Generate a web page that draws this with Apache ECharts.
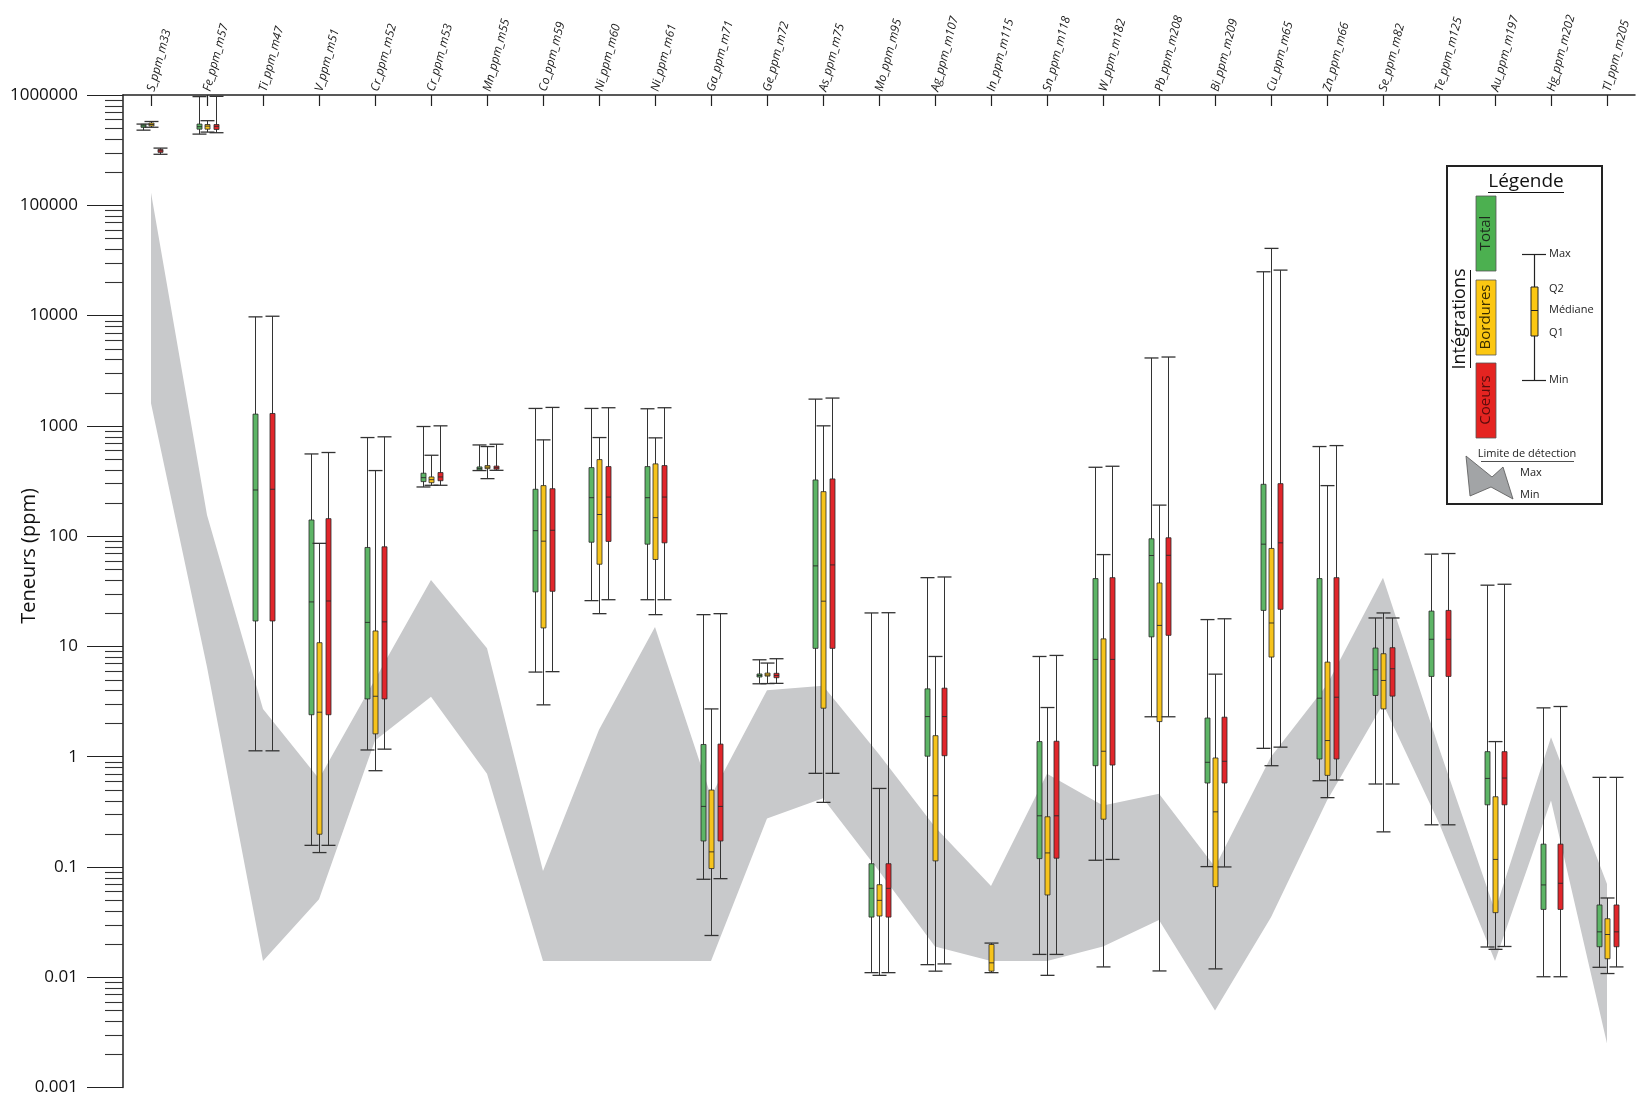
<!DOCTYPE html>
<html><head><meta charset="utf-8">
<script src="https://cdn.jsdelivr.net/npm/echarts/dist/echarts.min.js"></script>
<style>html,body{margin:0;padding:0;background:#fff}#c{width:1642px;height:1098px}</style>
</head><body><div id="c"></div>
<script>
// ---------- DATA ----------
const categories = ['S_ppm_m33','Fe_ppm_m57','Ti_ppm_m47','V_ppm_m51','Cr_ppm_m52','Cr_ppm_m53','Mn_ppm_m55','Co_ppm_m59','Ni_ppm_m60','Ni_ppm_m61','Ga_ppm_m71','Ge_ppm_m72','As_ppm_m75','Mo_ppm_m95','Ag_ppm_m107','In_ppm_m115','Sn_ppm_m118','W_ppm_m182','Pb_ppm_m208','Bi_ppm_m209','Cu_ppm_m65','Zn_ppm_m66','Se_ppm_m82','Te_ppm_m125','Au_ppm_m197','Hg_ppm_m202','Tl_ppm_m205'];

// [min, Q1, median, Q2(upper quartile), max]
const total = [
  [480000,515000,525000,535000,545000],
  [442000,490000,516000,545000,967000],
  [1.13,17,262,1277,9730],
  [0.157,2.4,25.3,140,556],
  [1.15,3.34,16.5,78.9,783],
  [279,312,339,372,986],
  [393,404,411,418,671],
  [5.85,31.2,112,266,1438],
  [26,88,223,418,1438],
  [26.5,84.5,223,427,1428],
  [0.0773,0.172,0.354,1.29,19.4],
  [4.58,5.3,5.45,5.6,7.56],
  [0.706,9.6,53.7,323,1747],
  [0.011,0.0351,0.064,0.107,20.1],
  [0.013,1.01,2.31,4.12,42],
  null,
  [0.0161,0.119,0.291,1.37,8.1],
  [0.115,0.828,7.62,41.2,421],
  [2.3,12.2,66.7,94.6,4125],
  [0.1007,0.577,0.889,2.24,17.5],
  [1.19,21.2,84.5,295,24950],
  [0.605,0.953,3.39,41.2,649],
  [0.565,3.59,6.14,9.66,18.1],
  [0.241,5.34,11.6,20.9,68.6],
  [0.0188,0.366,0.635,1.11,35.9],
  [0.0101,0.0412,0.0687,0.161,2.77],
  [0.0123,0.0189,0.0258,0.0452,0.649]
];
const bordures = [
  [510000,530000,540000,550000,575000],
  [461000,490000,522000,540000,585000],
  null,
  [0.135,0.198,2.53,10.8,86],
  [0.746,1.61,3.53,13.8,393],
  [289,305,325,344,541],
  [332,409,422,436,649],
  [2.95,14.7,90,287,746],
  [19.8,55.6,157,494,783],
  [19.4,61.4,147,452,778],
  [0.0239,0.0967,0.137,0.498,2.71],
  [4.6,5.4,5.5,5.7,7.06],
  [0.385,2.75,25.7,253,1000],
  [0.0104,0.0359,0.0498,0.069,0.515],
  [0.01135,0.1135,0.442,1.55,8.1],
  [0.011,0.01135,0.0135,0.0198,0.0204],
  [0.0104,0.0557,0.134,0.285,2.79],
  [0.0124,0.271,1.12,11.7,68],
  [0.0114,2.08,15.5,37.6,191],
  [0.0119,0.0663,0.316,0.973,5.6],
  [0.828,8.0,16.3,77.3,40650],
  [0.425,0.677,1.40,7.2,287],
  [0.208,2.71,4.91,8.58,20.1],
  null,
  [0.0179,0.0385,0.117,0.433,1.37],
  null,
  [0.0108,0.0147,0.0244,0.0339,0.0523]
];
const coeurs = [
  [290000,305000,312000,318000,330000],
  [455000,487000,520000,540000,972000],
  [1.13,17,266,1294,9860],
  [0.157,2.4,25.8,144,573],
  [1.17,3.34,16.7,80,795],
  [289,318,344,377,1000],
  [395,409,417,427,681],
  [5.9,31.6,113,269,1469],
  [26.5,89.5,226,427,1459],
  [26.5,86.9,226,436,1459],
  [0.0783,0.172,0.354,1.30,19.8],
  [4.62,5.2,5.45,5.7,7.73],
  [0.706,9.6,54.8,330,1786],
  [0.011,0.0351,0.064,0.107,20.2],
  [0.0132,1.02,2.31,4.18,42.6],
  null,
  [0.0161,0.12,0.291,1.38,8.28],
  [0.117,0.84,7.62,42,430],
  [2.3,12.6,67,96.6,4207],
  [0.1,0.577,0.908,2.28,17.8],
  [1.22,21.7,86.9,299,25830],
  [0.614,0.953,3.46,42,662],
  [0.565,3.54,6.27,9.73,18.1],
  [0.241,5.34,11.6,21.2,69.5],
  [0.019,0.366,0.64,1.11,36.6],
  [0.0101,0.0412,0.0711,0.161,2.85],
  [0.0124,0.0189,0.0258,0.0452,0.649]
];
// detection limit band (max / min)
const detMax = [130000,155,2.7,0.63,5,40,9.6,0.092,1.75,15,0.44,4.0,4.4,1.05,0.23,0.067,0.7,0.36,0.46,0.1,1.0,4.5,42,1.2,0.04,1.5,0.07];
const detMin = [1600,6.5,0.014,0.051,1.4,3.5,0.7,0.014,0.014,0.014,0.014,0.275,0.42,0.092,0.019,0.014,0.014,0.019,0.033,0.005,0.035,0.4,3.0,0.25,0.014,0.4,0.0025];

// ---------- STYLE ----------
const FONT = 'Open Sans';
const COL_G = '#5db566', COL_Y = '#f6c31c', COL_R = '#e1262b';
const LEG_G = '#4cb050', LEG_Y = '#fcc712', LEG_R = '#e52421';

function toData(arr){
  const out = [];
  arr.forEach((s,i)=>{ if(s) out.push([i, s[0], s[1], s[2], s[3], s[4]]); });
  return out;
}

function boxRender(offset, color){
  return function(params, api){
    const i = api.value(0);
    const pMin = api.coord([i, api.value(1)]);
    const pQ1 = api.coord([i, api.value(2)]);
    const pMed = api.coord([i, api.value(3)]);
    const pQ3 = api.coord([i, api.value(4)]);
    const pMax = api.coord([i, api.value(5)]);
    const x = Math.round(pMin[0] + offset) + 0.5;
    const capW = 14, bw = 5;
    let top = pQ3[1], bot = pQ1[1];
    if (bot - top < 3) { const m = (top+bot)/2; top = m-1.5; bot = m+1.5; }
    const ln = {stroke:'#333', lineWidth:1};
    return {type:'group', children:[
      {type:'line', shape:{x1:x,y1:pMax[1],x2:x,y2:pMin[1]}, style:ln},
      {type:'line', shape:{x1:x-capW/2,y1:pMax[1],x2:x+capW/2,y2:pMax[1]}, style:{stroke:'#333',lineWidth:1.3}},
      {type:'line', shape:{x1:x-capW/2,y1:pMin[1],x2:x+capW/2,y2:pMin[1]}, style:{stroke:'#333',lineWidth:1.3}},
      {type:'rect', shape:{x:x-bw/2,y:top,width:bw,height:bot-top}, style:{fill:color, stroke:'#2a2a2a', lineWidth:0.8}},
      {type:'line', shape:{x1:x-bw/2,y1:pMed[1],x2:x+bw/2,y2:pMed[1]}, style:{stroke:'#2a2a2a',lineWidth:0.9}}
    ]};
  };
}

// minor ticks of the log axis (2..9 x 10^k)
const minorVals = [];
for (let k=-3;k<=5;k++) for (let m=2;m<=9;m++) minorVals.push([0, m*Math.pow(10,k)]);

const chart = echarts.init(document.getElementById('c'), null, {renderer:'canvas'});

const legX = 1447, legY = 166;
const graphic = [
  {type:'text', x:29, y:556, rotation:Math.PI/2, style:{text:'Teneurs (ppm)', font:'20px "'+FONT+'"', fill:'#111', align:'center', verticalAlign:'middle'}},
  {type:'rect', x:legX, y:legY, shape:{width:155, height:338}, style:{fill:'#fff', stroke:'#222', lineWidth:2}, z:100},
  {type:'text', x:1526, y:182, style:{text:'Légende', font:'19px "'+FONT+'"', fill:'#111', align:'center', verticalAlign:'middle'}, z:101},
  {type:'line', shape:{x1:1488,y1:192.5,x2:1564,y2:192.5}, style:{stroke:'#111', lineWidth:1}, z:101},
  {type:'text', x:1460, y:319, rotation:Math.PI/2, style:{text:'Intégrations', font:'18px "'+FONT+'"', fill:'#111', align:'center', verticalAlign:'middle'}, z:101},
  {type:'line', shape:{x1:1470.5,y1:270,x2:1470.5,y2:368}, style:{stroke:'#111', lineWidth:1}, z:101},
  {type:'rect', x:1476, y:196, shape:{width:20,height:75}, style:{fill:LEG_G, stroke:'#555', lineWidth:0.8}, z:101},
  {type:'rect', x:1476, y:280, shape:{width:20,height:75}, style:{fill:LEG_Y, stroke:'#555', lineWidth:0.8}, z:101},
  {type:'rect', x:1476, y:363, shape:{width:20,height:75}, style:{fill:LEG_R, stroke:'#555', lineWidth:0.8}, z:101},
  {type:'text', x:1486, y:233, rotation:Math.PI/2, style:{text:'Total', font:'15px "'+FONT+'"', fill:'#1d2a1d', align:'center', verticalAlign:'middle'}, z:102},
  {type:'text', x:1486, y:317, rotation:Math.PI/2, style:{text:'Bordures', font:'15px "'+FONT+'"', fill:'#3a2e00', align:'center', verticalAlign:'middle'}, z:102},
  {type:'text', x:1486, y:400, rotation:Math.PI/2, style:{text:'Coeurs', font:'15px "'+FONT+'"', fill:'#5a0c0c', align:'center', verticalAlign:'middle'}, z:102},
  // sample boxplot
  {type:'line', shape:{x1:1534.5,y1:254,x2:1534.5,y2:380}, style:{stroke:'#222', lineWidth:1.2}, z:101},
  {type:'line', shape:{x1:1522,y1:254.5,x2:1546,y2:254.5}, style:{stroke:'#222', lineWidth:1.2}, z:101},
  {type:'line', shape:{x1:1522,y1:380.5,x2:1546,y2:380.5}, style:{stroke:'#222', lineWidth:1.2}, z:101},
  {type:'rect', x:1531, y:287, shape:{width:7,height:49}, style:{fill:LEG_Y, stroke:'#222', lineWidth:1}, z:102},
  {type:'line', shape:{x1:1531,y1:310.5,x2:1538,y2:310.5}, style:{stroke:'#222', lineWidth:1}, z:103},
  {type:'text', x:1549, y:254, style:{text:'Max', font:'11px "'+FONT+'"', fill:'#222', verticalAlign:'middle'}, z:101},
  {type:'text', x:1549, y:289, style:{text:'Q2', font:'11px "'+FONT+'"', fill:'#222', verticalAlign:'middle'}, z:101},
  {type:'text', x:1549, y:310, style:{text:'Médiane', font:'11px "'+FONT+'"', fill:'#222', verticalAlign:'middle'}, z:101},
  {type:'text', x:1549, y:333, style:{text:'Q1', font:'11px "'+FONT+'"', fill:'#222', verticalAlign:'middle'}, z:101},
  {type:'text', x:1549, y:380, style:{text:'Min', font:'11px "'+FONT+'"', fill:'#222', verticalAlign:'middle'}, z:101},
  {type:'text', x:1527, y:454, style:{text:'Limite de détection', font:'11px "'+FONT+'"', fill:'#222', align:'center', verticalAlign:'middle'}, z:101},
  {type:'line', shape:{x1:1481,y1:461.5,x2:1574,y2:461.5}, style:{stroke:'#222', lineWidth:0.8}, z:101},
  {type:'polygon', shape:{points:[[1466,456],[1492,477],[1503,467],[1513,499],[1491,487],[1470,496]]}, style:{fill:'#a2a4a6', stroke:'#555', lineWidth:0.8}, z:101},
  {type:'text', x:1520, y:473, style:{text:'Max', font:'11px "'+FONT+'"', fill:'#222', verticalAlign:'middle'}, z:101},
  {type:'text', x:1520, y:495, style:{text:'Min', font:'11px "'+FONT+'"', fill:'#222', verticalAlign:'middle'}, z:101}
];

const option = {
  animation:false,
  backgroundColor:'#fff',
  textStyle:{fontFamily:FONT},
  grid:{left:123, top:95, width:1512, height:992.5, containLabel:false},
  xAxis:{
    type:'category', data:categories, position:'top', boundaryGap:true,
    axisLine:{show:true, lineStyle:{color:'#222', width:1.5}},
    axisTick:{show:true, inside:true, length:11, alignWithLabel:true, lineStyle:{color:'#222', width:1.2}},
    axisLabel:{rotate:-75, margin:4, fontSize:12, fontStyle:'italic', color:'#222', fontFamily:FONT, interval:0},
    splitLine:{show:false}
  },
  yAxis:{
    type:'log', logBase:10, min:0.001, max:1000000, splitNumber:9,
    axisLine:{show:true, lineStyle:{color:'#222', width:1.5}},
    axisTick:{show:true, inside:false, length:36, lineStyle:{color:'#222', width:1.2}},
    axisLabel:{margin:45, fontSize:17, color:'#111', fontFamily:FONT,
      formatter:function(v){ const n = Number(Number(v).toPrecision(3)); return n>=1 ? String(Math.round(n)) : String(n); }},
    splitLine:{show:false}
  },
  graphic: graphic,
  series:[
    {type:'custom', name:'band', z:1, silent:true,
      data: categories.map((c,i)=>[i, detMax[i], detMin[i]]),
      encode:{x:0, y:[1,2]},
      renderItem:function(params, api){
        if (params.dataIndex !== 0) return null;
        const n = params.dataInsideLength;
        const up = [], lo = [];
        for (let k=0;k<n;k++){
          up.push(api.coord([api.value(0,k), api.value(1,k)]));
          lo.push(api.coord([api.value(0,k), api.value(2,k)]));
        }
        return {type:'polygon', shape:{points: up.concat(lo.reverse())}, style:{fill:'#c8c9cb'}};
      }
    },
    {type:'custom', name:'minorTicks', z:3, silent:true, clip:false,
      data:minorVals, encode:{x:0,y:1},
      renderItem:function(params, api){
        const p = api.coord([0, api.value(1)]);
        const x0 = params.coordSys.x;
        const y = Math.round(p[1])+0.5;
        return {type:'line', shape:{x1:x0-18, y1:y, x2:x0, y2:y}, style:{stroke:'#333', lineWidth:1.1}};
      }
    },
    {type:'custom', name:'Total', z:5, data:toData(total), encode:{x:0,y:[1,2,3,4,5]}, renderItem:boxRender(-8.5, COL_G)},
    {type:'custom', name:'Bordures', z:6, data:toData(bordures), encode:{x:0,y:[1,2,3,4,5]}, renderItem:boxRender(0, COL_Y)},
    {type:'custom', name:'Coeurs', z:7, data:toData(coeurs), encode:{x:0,y:[1,2,3,4,5]}, renderItem:boxRender(9, COL_R)}
  ]
};
chart.setOption(option);
</script>
</body></html>
